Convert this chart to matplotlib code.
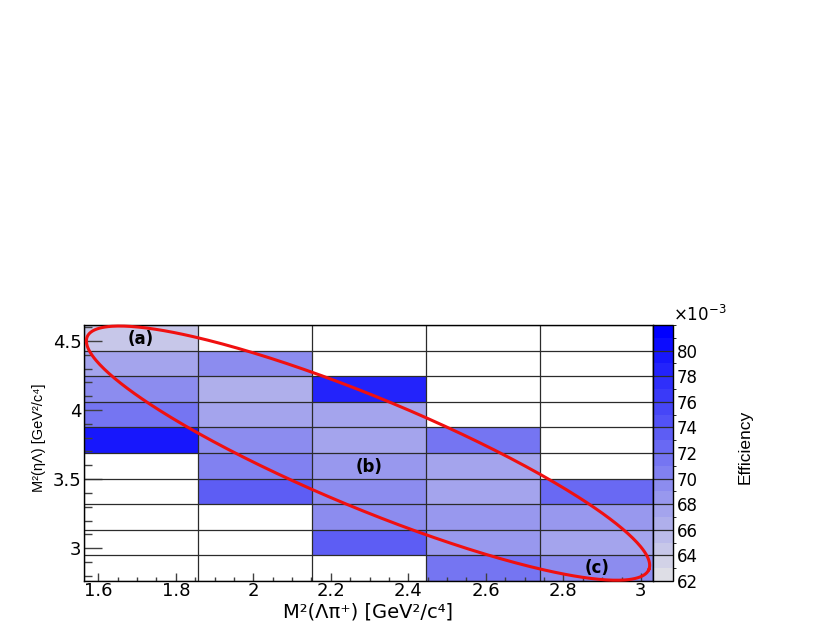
import numpy as np
import matplotlib.pyplot as plt
from matplotlib.colors import ListedColormap, BoundaryNorm
from matplotlib.ticker import MultipleLocator, FormatStrFormatter

plt.rcParams['font.family'] = ['DejaVu Sans']

# bin edges of the Dalitz plot
x_edges = [1.564, 1.858, 2.152, 2.445, 2.739, 3.032]   # M2(Lambda pi+)
y_edges = [2.762, 2.947, 3.133, 3.318, 3.504, 3.689,
           3.874, 4.060, 4.245, 4.431, 4.616]          # M2(eta Lambda)

# efficiency in units of 1e-3, rows from bottom to top, nan = empty bin
nan = np.nan
eff = np.array([
    [nan,  nan,  nan,  71.7, 69.5],
    [nan,  nan,  73.5, 68.6, 67.3],
    [nan,  nan,  69.5, 68.6, 68.6],
    [nan,  73.5, 69.5, 67.3, 72.6],
    [nan,  70.6, 68.4, 67.3, nan],
    [79.6, 69.5, 67.3, 71.7, nan],
    [71.3, 67.3, 67.3, nan,  nan],
    [69.5, 66.4, 78.4, nan,  nan],
    [67.3, 69.5, nan,  nan,  nan],
    [64.3, nan,  nan,  nan,  nan],
])

z_min, z_max = 62, 82
cbar_ticks = [62, 64, 66, 68, 70, 72, 74, 76, 78, 80]

# region labels and the band drawn around them
labels = ['(a)', '(b)', '(c)']
label_x = [1.709, 2.298, 2.887]
label_y = [4.517, 3.589, 2.853]
ell_center = (2.296, 3.688)
ell_a, ell_b, ell_tilt = 304.0, 55.4, 22.5   # semi axes in pixels, tilt in deg

# palette: grey-lavender to blue, 20 contour levels like ROOT
n_lev = 20
g = np.linspace(222, 0, n_lev) / 255.
bl = np.linspace(230, 255, n_lev) / 255.
cmap = ListedColormap(np.column_stack([g, g, bl]))
norm = BoundaryNorm(np.linspace(z_min, z_max, n_lev + 1), n_lev)

W, H = 830, 623
fig = plt.figure(figsize=(W / 100, H / 100), dpi=100)
ax_w, ax_h = 569, 256
ax = fig.add_axes([84.3 / W, 42 / H, ax_w / W, ax_h / H])
cax = fig.add_axes([653.3 / W, 42 / H, 19.4 / W, ax_h / H])

mesh = ax.pcolormesh(x_edges, y_edges, np.ma.masked_invalid(eff),
                     cmap=cmap, norm=norm, zorder=1)
ax.hlines(y_edges, x_edges[0], x_edges[-1], color='#2b2b2b', lw=0.9, zorder=2)
ax.vlines(x_edges, y_edges[0], y_edges[-1], color='#2b2b2b', lw=0.9, zorder=2)
ax.set_xlim(x_edges[0], x_edges[-1])
ax.set_ylim(y_edges[0], y_edges[-1])

# ellipse (rotation done in pixel space)
sx = ax_w / (x_edges[-1] - x_edges[0])
sy = ax_h / (y_edges[-1] - y_edges[0])
t = np.linspace(0, 2 * np.pi, 400)
th = np.deg2rad(ell_tilt)
u = ell_a * np.cos(t) * np.cos(th) - ell_b * np.sin(t) * np.sin(th)
v = ell_a * np.cos(t) * np.sin(th) + ell_b * np.sin(t) * np.cos(th)
ax.plot(ell_center[0] + u / sx, ell_center[1] - v / sy, color='#f01010',
        lw=2.2, zorder=4, clip_on=False)

for lab, lx, ly in zip(labels, label_x, label_y):
    ax.text(lx, ly, lab, fontsize=12, fontweight='bold', ha='center',
            va='center', zorder=5)

# axes style
ax.xaxis.set_major_locator(MultipleLocator(0.2))
ax.xaxis.set_minor_locator(MultipleLocator(0.05))
ax.yaxis.set_major_locator(MultipleLocator(0.5))
ax.yaxis.set_minor_locator(MultipleLocator(0.1))
ax.xaxis.set_major_formatter(FormatStrFormatter('%g'))
ax.yaxis.set_major_formatter(FormatStrFormatter('%g'))
ax.tick_params(which='both', direction='in', top=False, right=False,
               color='#404040', width=1, labelsize=13)
ax.tick_params(axis='x', which='major', length=5.7, pad=1)
ax.tick_params(axis='x', which='minor', length=3)
ax.tick_params(axis='y', which='major', length=13, pad=2)
ax.tick_params(axis='y', which='minor', length=6)
for s in ax.spines.values():
    s.set_linewidth(1)
    s.set_zorder(3)

cb = fig.colorbar(mesh, cax=cax, spacing='proportional')
cb.set_ticks(cbar_ticks)
cb.ax.tick_params(length=0, pad=3, labelsize=12)
cb.outline.set_linewidth(1)
cax.hlines(cbar_ticks[1:], 0, 1, transform=cax.get_yaxis_transform(),
           color='#2b2b2b', lw=0.9)
cax.text(1.0, 1.0, r'$\times10^{-3}$', transform=cax.transAxes,
         fontsize=12, ha='left', va='bottom')

fig.text(368 / W, 1 - 617 / H, 'M²(Λπ⁺) [GeV²/c⁴]', fontsize=14,
         ha='center', va='baseline')
fig.text(39 / W, 1 - 438 / H, 'M²(ηΛ) [GeV²/c⁴]', fontsize=10.5,
         family=['Liberation Sans', 'DejaVu Sans'], rotation=90,
         ha='center', va='center')
fig.text(745 / W, 1 - 447 / H, 'Efficiency', fontsize=12.5,
         family=['Liberation Sans', 'DejaVu Sans'], rotation=90,
         ha='center', va='center')

fig.savefig('out.png', dpi=100)
